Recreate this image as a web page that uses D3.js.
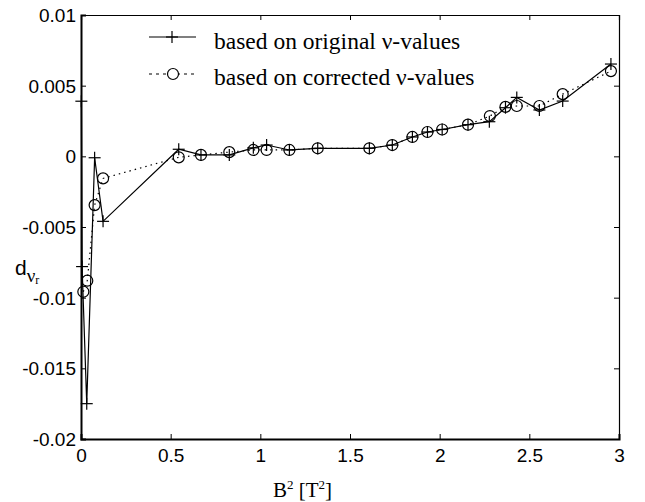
<!DOCTYPE html>
<html><head><meta charset="utf-8">
<script src="https://cdn.jsdelivr.net/npm/d3@7"></script>
<style>body{margin:0;background:#fff}svg{display:block}</style>
</head><body>
<svg id="c" width="645" height="502"></svg>
<script>
// ---- data ----
const xTicks = [0, 0.5, 1, 1.5, 2, 2.5, 3];
const xTickLabels = ["0", "0.5", "1", "1.5", "2", "2.5", "3"];
const yTicks = [0.01, 0.005, 0, -0.005, -0.01, -0.015, -0.02];
const yTickLabels = ["0.01", "0.005", "0", "-0.005", "-0.01", "-0.015", "-0.02"];
const seriesNames = ["based on original \u03bd-values", "based on corrected \u03bd-values"];
const origX = [0.002, 0.006, 0.032, 0.076, 0.123, 0.545, 0.669, 0.827, 0.961, 1.035, 1.162, 1.32, 1.608, 1.736, 1.848, 1.932, 2.014, 2.158, 2.277, 2.367, 2.43, 2.556, 2.686, 2.955];
const origY = [0.0039, -0.0078, -0.0175, -0.0001, -0.0046, 0.0005, 0.0001, 0.0001, 0.0006, 0.0008, 0.00045, 0.00057, 0.00057, 0.0008, 0.00137, 0.00172, 0.0019, 0.00224, 0.00245, 0.00344, 0.00417, 0.00328, 0.00391, 0.00653];
const corrX = [0.013, 0.035, 0.076, 0.123, 0.545, 0.669, 0.827, 0.961, 1.035, 1.162, 1.32, 1.608, 1.736, 1.848, 1.932, 2.014, 2.158, 2.28, 2.367, 2.43, 2.556, 2.686, 2.955];
const corrY = [-0.00958, -0.0088, -0.00345, -0.00156, -0.00007, 0.0001, 0.0003, 0.00045, 0.00045, 0.00045, 0.00057, 0.00057, 0.0008, 0.00137, 0.00172, 0.0019, 0.00224, 0.00285, 0.0035, 0.00356, 0.00356, 0.0044, 0.00603];

// ---- layout ----
const W = 645, H = 502;
const m = {left: 81, right: 26, top: 15, bottom: 63};
const svg = d3.select("#c");
const x = d3.scaleLinear().domain([0, 3]).range([m.left, W - m.right]);
const y = d3.scaleLinear().domain([-0.02, 0.01]).range([H - m.bottom, m.top]);
const sans = "Liberation Sans, Arial, sans-serif";
const serif = "Liberation Serif, Times New Roman, serif";

// axes with inward ticks
const tickLen = 5;
const axB = svg.append("g").attr("transform", `translate(0,${y(-0.02)})`)
  .call(d3.axisBottom(x).tickValues(xTicks).tickSize(-tickLen).tickPadding(10)
    .tickFormat((d, i) => xTickLabels[i]));
const axT = svg.append("g").attr("transform", `translate(0,${y(0.01)})`)
  .call(d3.axisTop(x).tickValues(xTicks).tickSize(-tickLen).tickFormat(""));
const axL = svg.append("g").attr("transform", `translate(${x(0)},0)`)
  .call(d3.axisLeft(y).tickValues(yTicks).tickSize(-tickLen).tickPadding(5)
    .tickFormat((d, i) => yTickLabels[i]));
const axR = svg.append("g").attr("transform", `translate(${x(3)},0)`)
  .call(d3.axisRight(y).tickValues(yTicks).tickSize(-tickLen).tickFormat(""));
[axB, axT, axL, axR].forEach(g => {
  g.selectAll("line").attr("stroke", "#000").attr("stroke-width", 1);
  g.selectAll("text").attr("fill", "#000").style("font-family", sans).style("font-size", "19px");
});
axB.select(".domain").attr("stroke", "#000").attr("stroke-width", 2);
axL.select(".domain").attr("stroke", "#000").attr("stroke-width", 2);
axT.select(".domain").attr("stroke", "#000").attr("stroke-width", 1.2);
axR.select(".domain").attr("stroke", "#000").attr("stroke-width", 1.2);
axB.selectAll("text").attr("dy", "0.71em");
axL.selectAll("text").attr("dy", "0.35em");

// lines
const orig = origX.map((v, i) => [v, origY[i]]);
const corr = corrX.map((v, i) => [v, corrY[i]]);
const line = d3.line().x(d => x(d[0])).y(d => y(d[1]));
svg.append("path").datum(corr).attr("d", line).attr("fill", "none")
  .attr("stroke", "#000").attr("stroke-width", 1.2).attr("stroke-dasharray", "1.5,4");
svg.append("path").datum(orig).attr("d", line).attr("fill", "none")
  .attr("stroke", "#000").attr("stroke-width", 1.2);

const plusSize = 6, circR = 5.5;
function plus(g, cx, cy) {
  g.append("line").attr("x1", cx - plusSize).attr("x2", cx + plusSize).attr("y1", cy).attr("y2", cy)
    .attr("stroke", "#000").attr("stroke-width", 1.2);
  g.append("line").attr("x1", cx).attr("x2", cx).attr("y1", cy - plusSize).attr("y2", cy + plusSize)
    .attr("stroke", "#000").attr("stroke-width", 1.2);
}
const gC = svg.append("g");
gC.selectAll("circle").data(corr).join("circle")
  .attr("cx", d => x(d[0])).attr("cy", d => y(d[1])).attr("r", circR)
  .attr("fill", "none").attr("stroke", "#000").attr("stroke-width", 1.2);
const gP = svg.append("g");
orig.forEach(d => plus(gP, x(d[0]), y(d[1])));

// legend
const lg = svg.append("g");
const lx1 = 149, lx2 = 196, lcx = 172;
lg.append("line").attr("x1", lx1).attr("x2", lx2).attr("y1", 37).attr("y2", 37)
  .attr("stroke", "#000").attr("stroke-width", 1.2);
plus(lg, lcx, 37);
lg.append("line").attr("x1", lx1).attr("x2", lx2).attr("y1", 74).attr("y2", 74)
  .attr("stroke", "#000").attr("stroke-width", 1.2).attr("stroke-dasharray", "3,4");
lg.append("circle").attr("cx", lcx + 1).attr("cy", 74).attr("r", circR)
  .attr("fill", "#fff").attr("stroke", "#000").attr("stroke-width", 1.2);
lg.selectAll("text").data(seriesNames).join("text")
  .attr("x", 214).attr("y", (d, i) => i === 0 ? 49 : 85)
  .style("font-family", serif).style("font-size", "23.5px").attr("fill", "#000")
  .text(d => d);

// x label
const xl = svg.append("text").attr("x", 273).attr("y", 497)
  .style("font-family", serif).style("font-size", "21px").attr("fill", "#000");
xl.append("tspan").text("B");
xl.append("tspan").attr("dy", -8).style("font-size", "13px").text("2");
xl.append("tspan").attr("dy", 8).text(" [T");
xl.append("tspan").attr("dy", -8).style("font-size", "13px").text("2");
xl.append("tspan").attr("dy", 8).text("]");

// y label
const yl = svg.append("text").attr("x", 15).attr("y", 275)
  .style("font-family", sans).style("font-size", "21px").attr("fill", "#000");
yl.append("tspan").text("d");
yl.append("tspan").attr("dy", 7).style("font-family", serif).style("font-size", "19px").text("\u03bd");
yl.append("tspan").attr("dy", 2).style("font-family", serif).style("font-size", "12px").text("r");
</script>
</body></html>
